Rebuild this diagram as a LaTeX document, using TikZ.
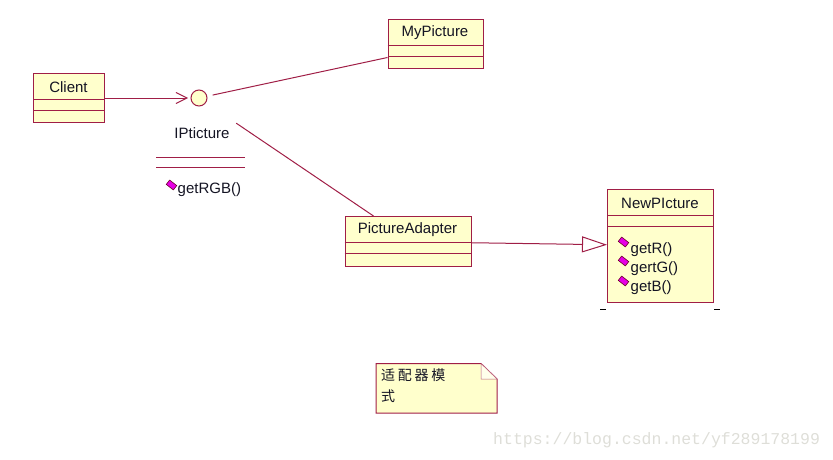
\documentclass[tikz,border=0pt]{standalone}
\usepackage{fontspec}
\setmainfont{Liberation Sans}
\newfontfamily\cjk{Noto Sans CJK SC}
\newfontfamily\wmfont{Liberation Mono}
\usetikzlibrary{arrows.meta,calc}
\definecolor{umlline}{RGB}{160,30,70}
\definecolor{umlfill}{RGB}{255,255,204}
\definecolor{opmag}{RGB}{230,0,230}
\definecolor{umltext}{RGB}{20,20,35}
\definecolor{wmgray}{RGB}{222,222,216}
\begin{document}
\begin{tikzpicture}[x=1pt,y=-1pt,
  classbox/.style={draw=umlline,fill=umlfill,line width=1pt,rectangle,inner sep=0pt,anchor=north west},
  divider/.style={draw=umlline,line width=1pt},
  conn/.style={draw=umlline,line width=1pt},
  cname/.style={font=\fontsize{15}{18}\selectfont,text=umltext,inner sep=0pt},
  optext/.style={font=\fontsize{15}{18}\selectfont,text=umltext,inner sep=0pt,anchor=west},
  opicon/.style={draw=purple!55!black,fill=opmag,line width=0.6pt,rectangle,minimum width=9pt,minimum height=5.5pt,inner sep=0pt,rotate=-38},
  iface/.style={circle,draw=umlline,fill=umlfill,line width=1pt,minimum size=16pt,inner sep=0pt}
]
\useasboundingbox (0,0) rectangle (833,460);

% Client
\node[classbox,minimum width=71pt,minimum height=49pt] (client) at (33,73) {};
\draw[divider] (33,99) -- (104,99);
\draw[divider] (33,110) -- (104,110);
\node[cname] (clientname) at (68.5,87) {Client};

% MyPicture
\node[classbox,minimum width=95pt,minimum height=49pt] (mypic) at (387.5,19.5) {};
\draw[divider] (387.5,45.5) -- (482.5,45.5);
\draw[divider] (387.5,57) -- (482.5,57);
\node[cname] (mypicname) at (435,33) {MyPicture};

% PictureAdapter
\node[classbox,minimum width=126.5pt,minimum height=49.5pt] (adapter) at (344.5,216) {};
\draw[divider] (344.5,242.5) -- (471,242.5);
\draw[divider] (344.5,253.5) -- (471,253.5);
\node[cname] (adaptername) at (407.5,230) {PictureAdapter};

% NewPIcture
\node[classbox,minimum width=105.5pt,minimum height=113.5pt] (newpic) at (607,188.5) {};
\draw[divider] (607,215) -- (712.5,215);
\draw[divider] (607,226) -- (712.5,226);
\node[cname] (newpicname) at (660,203) {NewPIcture};
\node[opicon] (d1) at (623.5,242) {};
\node[optext] (m1) at (630.5,250) {getR()};
\node[opicon] (d2) at (623.5,261) {};
\node[optext] (m2) at (630.5,269) {gertG()};
\node[opicon] (d3) at (623.5,281) {};
\node[optext] (m3) at (630.5,288) {getB()};
\draw[line width=0.9pt,black] ($(newpic.south west)+(-7,6.5)$) -- ($(newpic.south west)+(-1,6.5)$);
\draw[line width=0.9pt,black] ($(newpic.south east)+(0.5,6.5)$) -- ($(newpic.south east)+(6.5,6.5)$);

% Interface IPticture
\node[iface] (ipic) at (199,98) {};
\node[cname] (ipicname) at (202,133) {IPticture};
\draw[divider] (156,157) -- (245,157);
\draw[divider] (156,167.5) -- (245,167.5);
\node[opicon] (d0) at (171.5,185) {};
\node[optext] (m0) at (177.5,190) {getRGB()};

% connectors
\draw[conn,-{Straight Barb[length=11pt,width=11pt,line width=1pt]},shorten >=2.5pt] (client.east) -- (ipic.west);
\draw[conn,shorten <=14pt] (ipic.center) -- ($(mypic.south west)+(0,-12)$);
\draw[conn,shorten <=45pt] (ipic.center) -- ($(adapter.north west)+(29,0)$);
\draw[conn,-{Triangle[open,length=25pt,width=16pt,line width=1pt,fill=white]}] ($(adapter.east)+(0,1.5)$) -- ($(newpic.west)+(0,-1)$);

% Note
\draw[draw=umlline,fill=umlfill,line width=1pt] (376,363.5) -- (481,363.5) -- (497,379) -- (497,413) -- (376,413) -- cycle;
\draw[draw=umlline!70,fill=umlfill!40,line width=0.5pt] (481,363.5) -- (481,379) -- (497,379) -- cycle;
\node[font=\cjk\fontsize{14}{21}\selectfont,text=umltext,anchor=north west,align=left,inner sep=0pt] (note) at (381,369)
  {\makebox[16.7pt][l]{适}\makebox[16.7pt][l]{配}\makebox[16.7pt][l]{器}\makebox[16.7pt][l]{模}\\式};

% watermark
\node[font=\wmfont\fontsize{16.5}{20}\selectfont,text=wmgray,anchor=west,inner sep=0pt] (wm) at (493,440) {https://blog.csdn.net/yf289178199};
\end{tikzpicture}
\end{document}
